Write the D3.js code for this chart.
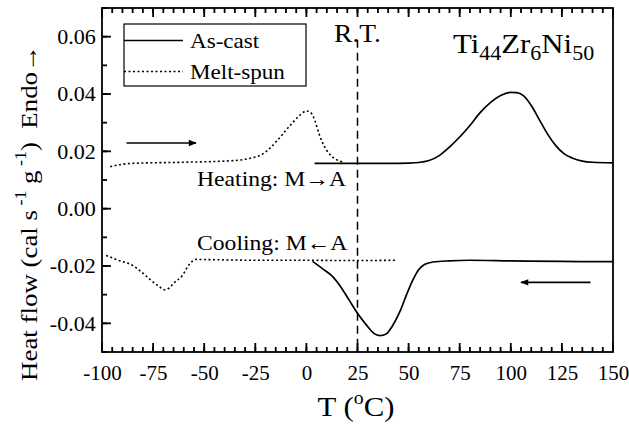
<!DOCTYPE html>
<html>
<head>
<meta charset="utf-8">
<script src="https://cdn.jsdelivr.net/npm/d3@7"></script>
<style>
  body { margin: 0; background: #fff; }
  svg { display: block; }
  text { font-family: "Liberation Serif", "Times New Roman", serif; fill: #000; }
</style>
</head>
<body>
<svg width="629" height="425"></svg>
<script>
// ---- data: [T (°C), heat flow (cal s-1 g-1)] ----
var castHeat = [[4, 0.0158], [20, 0.0158], [40, 0.0158], [50, 0.0159], [55, 0.0161], [60, 0.0168],
  [65, 0.0185], [70, 0.0215], [75, 0.025], [80, 0.029], [85, 0.0335], [90, 0.037], [95, 0.0395],
  [100, 0.0406], [103, 0.0405], [106, 0.0395], [110, 0.036], [114, 0.031], [118, 0.026],
  [122, 0.022], [126, 0.0192], [130, 0.0177], [135, 0.0166], [140, 0.0162], [150, 0.016]];
var castCool = [[3, -0.0184], [8, -0.021], [13, -0.0238], [17, -0.0275], [21, -0.032], [25, -0.0365],
  [29.5, -0.0407], [33, -0.0435], [36, -0.0443], [39, -0.0437], [42, -0.041], [46, -0.0355],
  [49, -0.030], [52, -0.025], [55, -0.0212], [58, -0.0194], [62, -0.0186], [70, -0.0182],
  [80, -0.018], [100, -0.0182], [125, -0.0184], [150, -0.0185]];
var spunHeat = [[-96, 0.0146], [-90, 0.0155], [-85, 0.0158], [-60, 0.0162], [-40, 0.0166],
  [-32, 0.017], [-27, 0.0177], [-22, 0.0188], [-18, 0.021], [-14, 0.024], [-8, 0.029],
  [-3, 0.0327], [0, 0.0341], [2, 0.0336], [4, 0.031], [6, 0.0265], [8, 0.0228], [10, 0.0203],
  [12, 0.0185], [15, 0.017], [18, 0.0163]];
var spunCool = [[-98, -0.0163], [-92, -0.018], [-85, -0.0198], [-80, -0.0225], [-76, -0.025],
  [-72, -0.0272], [-69.5, -0.0283], [-67, -0.0276], [-65, -0.026], [-61, -0.0236], [-57, -0.0192],
  [-54, -0.0177], [-45, -0.0178], [-25, -0.018], [0, -0.018], [20, -0.0181], [44, -0.018]];

var xTicks = [-100, -75, -50, -25, 0, 25, 50, 75, 100, 125, 150];
var yTicks = [-0.04, -0.02, 0.00, 0.02, 0.04, 0.06];
var roomT = 25;
var heatArrow = [[-88, 0.0229], [-54, 0.0229]];
var coolArrow = [[139, -0.0257], [105, -0.0257]];

var svg = d3.select("svg");
var margins = { top: 8, right: 16, bottom: 73, left: 102 };
var w = 629 - margins.left - margins.right;
var h = 425 - margins.top - margins.bottom;
var g = svg.append("g").attr("transform", `translate(${margins.left},${margins.top})`);
var SX = 1.1; // the scanned lettering is a bit wider than Times

var xScale = d3.scaleLinear([-100, 150], [0, w]);
var yScale = d3.scaleLinear([-0.05, 0.07], [h, 0]);

var defs = svg.append("defs");
defs.append("marker").attr("id", "head")
  .attr("viewBox", "0 0 10 10").attr("refX", 9).attr("refY", 5)
  .attr("markerWidth", 10).attr("markerHeight", 8).attr("markerUnits", "userSpaceOnUse")
  .attr("orient", "auto")
  .append("path").attr("d", "M0,1 L10,5 L0,9 Z").attr("fill", "#000");

// text placed at (x, y), widened by SX
function label(parent, x, y, size, anchor) {
  return parent.append("g").attr("transform", `translate(${x},${y}) scale(${SX},1)`)
    .append("text").attr("text-anchor", anchor || "start").style("font-size", size + "px");
}

g.append("rect").attr("width", w).attr("height", h)
  .attr("fill", "none").attr("stroke", "#000").attr("stroke-width", 1.8);

var curve = d3.line()
  .x(function (d) { return xScale(d[0]); })
  .y(function (d) { return yScale(d[1]); })
  .curve(d3.curveMonotoneX);

[castHeat, castCool].forEach(function (s) {
  g.append("path").datum(s).attr("d", curve)
    .attr("fill", "none").attr("stroke", "#000").attr("stroke-width", 1.7);
});
[spunHeat, spunCool].forEach(function (s) {
  g.append("path").datum(s).attr("d", curve)
    .attr("fill", "none").attr("stroke", "#000").attr("stroke-width", 1.6)
    .attr("stroke-dasharray", "2,2.5");
});

// room temperature marker
g.append("line")
  .attr("x1", xScale(roomT)).attr("x2", xScale(roomT))
  .attr("y1", yScale(0.0589)).attr("y2", h)
  .attr("stroke", "#000").attr("stroke-width", 1.5).attr("stroke-dasharray", "8,5");
label(g, xScale(roomT), 34, 25, "middle").text("R.T.");

[heatArrow, coolArrow].forEach(function (a) {
  g.append("line")
    .attr("x1", xScale(a[0][0])).attr("y1", yScale(a[0][1]))
    .attr("x2", xScale(a[1][0])).attr("y2", yScale(a[1][1]))
    .attr("stroke", "#000").attr("stroke-width", 1.6).attr("marker-end", "url(#head)");
});

label(g, 95, 178, 21.5).text("Heating: M\u2192A");
label(g, 95, 242, 21.5).text("Cooling: M\u2190A");

// composition label
var title = label(g, 351, 45, 28);
title.append("tspan").text("Ti");
title.append("tspan").attr("dy", 7).style("font-size", "20px").text("44");
title.append("tspan").attr("dy", -7).text("Zr");
title.append("tspan").attr("dy", 7).style("font-size", "20px").text("6");
title.append("tspan").attr("dy", -7).text("Ni");
title.append("tspan").attr("dy", 7).style("font-size", "20px").text("50");

// legend
var legend = g.append("g").attr("transform", "translate(22,16)");
legend.append("rect").attr("width", 182).attr("height", 62)
  .attr("fill", "#fff").attr("stroke", "#000").attr("stroke-width", 1.2);
var legendItems = [["As-cast", null], ["Melt-spun", "2,2.5"]];
legendItems.forEach(function (d, i) {
  var y = 16.5 + i * 31;
  legend.append("line").attr("x1", 0).attr("x2", 59).attr("y1", y).attr("y2", y)
    .attr("stroke", "#000").attr("stroke-width", 1.5).attr("stroke-dasharray", d[1]);
  label(legend, 66, y + 7, 21).text(d[0]);
});

// axis titles
var xl = label(svg, 356, 416, 28, "middle");
xl.append("tspan").text("T (");
xl.append("tspan").attr("dy", -12).style("font-size", "18px").text("o");
xl.append("tspan").attr("dy", 12).text("C)");

var yl = svg.append("text").attr("transform", "translate(37,213) rotate(-90) scale(1.12,1)")
  .attr("text-anchor", "middle").style("font-size", "24px");
yl.append("tspan").text("Heat flow (cal s");
yl.append("tspan").attr("dy", -11).style("font-size", "16px").text(" -1");
yl.append("tspan").attr("dy", 11).text(" g");
yl.append("tspan").attr("dy", -11).style("font-size", "16px").text(" -1");
yl.append("tspan").attr("dy", 11).text(")\u00a0\u00a0Endo\u2192");

// tick labels from d3 axes
function styleAxis(size) {
  return function (sel) {
    sel.select(".domain").remove();
    sel.selectAll(".tick line").remove();
    sel.selectAll(".tick text").style("font-size", size + "px").attr("transform", "scale(1.05,1)");
  };
}
var hyphen = function (f) { return function (d) { return f(d).replace("\u2212", "-"); }; };
var xMinor = d3.range(-100, 151, 5);
var yMinor = d3.range(-5, 8).map(function (d) { return d / 100; });

var axes = svg.append("g").attr("transform", `translate(${margins.left},${margins.top})`);
axes.append("g").attr("transform", `translate(0,${h})`)
  .call(d3.axisBottom(xScale).tickValues(xTicks).tickSize(0).tickPadding(14)
    .tickFormat(hyphen(d3.format("d"))))
  .call(styleAxis(20));
axes.append("g")
  .call(d3.axisLeft(yScale).tickValues(yTicks).tickSize(0).tickPadding(6)
    .tickFormat(hyphen(d3.format(".2f"))))
  .call(styleAxis(21));

// inward tick marks, placed with the same scales
function xTickMarks(values, len) {
  [[h, -len], [0, len]].forEach(function (side) {
    axes.append("g").selectAll("line").data(values).join("line")
      .attr("x1", function (d) { return xScale(d); })
      .attr("x2", function (d) { return xScale(d); })
      .attr("y1", side[0]).attr("y2", side[0] + side[1])
      .attr("stroke", "#000").attr("stroke-width", 1.8);
  });
}
function yTickMarks(values, len) {
  axes.append("g").selectAll("line").data(values).join("line")
    .attr("y1", function (d) { return yScale(d); })
    .attr("y2", function (d) { return yScale(d); })
    .attr("x1", 0).attr("x2", len)
    .attr("stroke", "#000").attr("stroke-width", 1.8);
}
xTickMarks(xMinor, 5);
xTickMarks(xTicks, 9);
yTickMarks(yMinor, 5);
yTickMarks(yTicks, 9);
</script>
</body>
</html>
